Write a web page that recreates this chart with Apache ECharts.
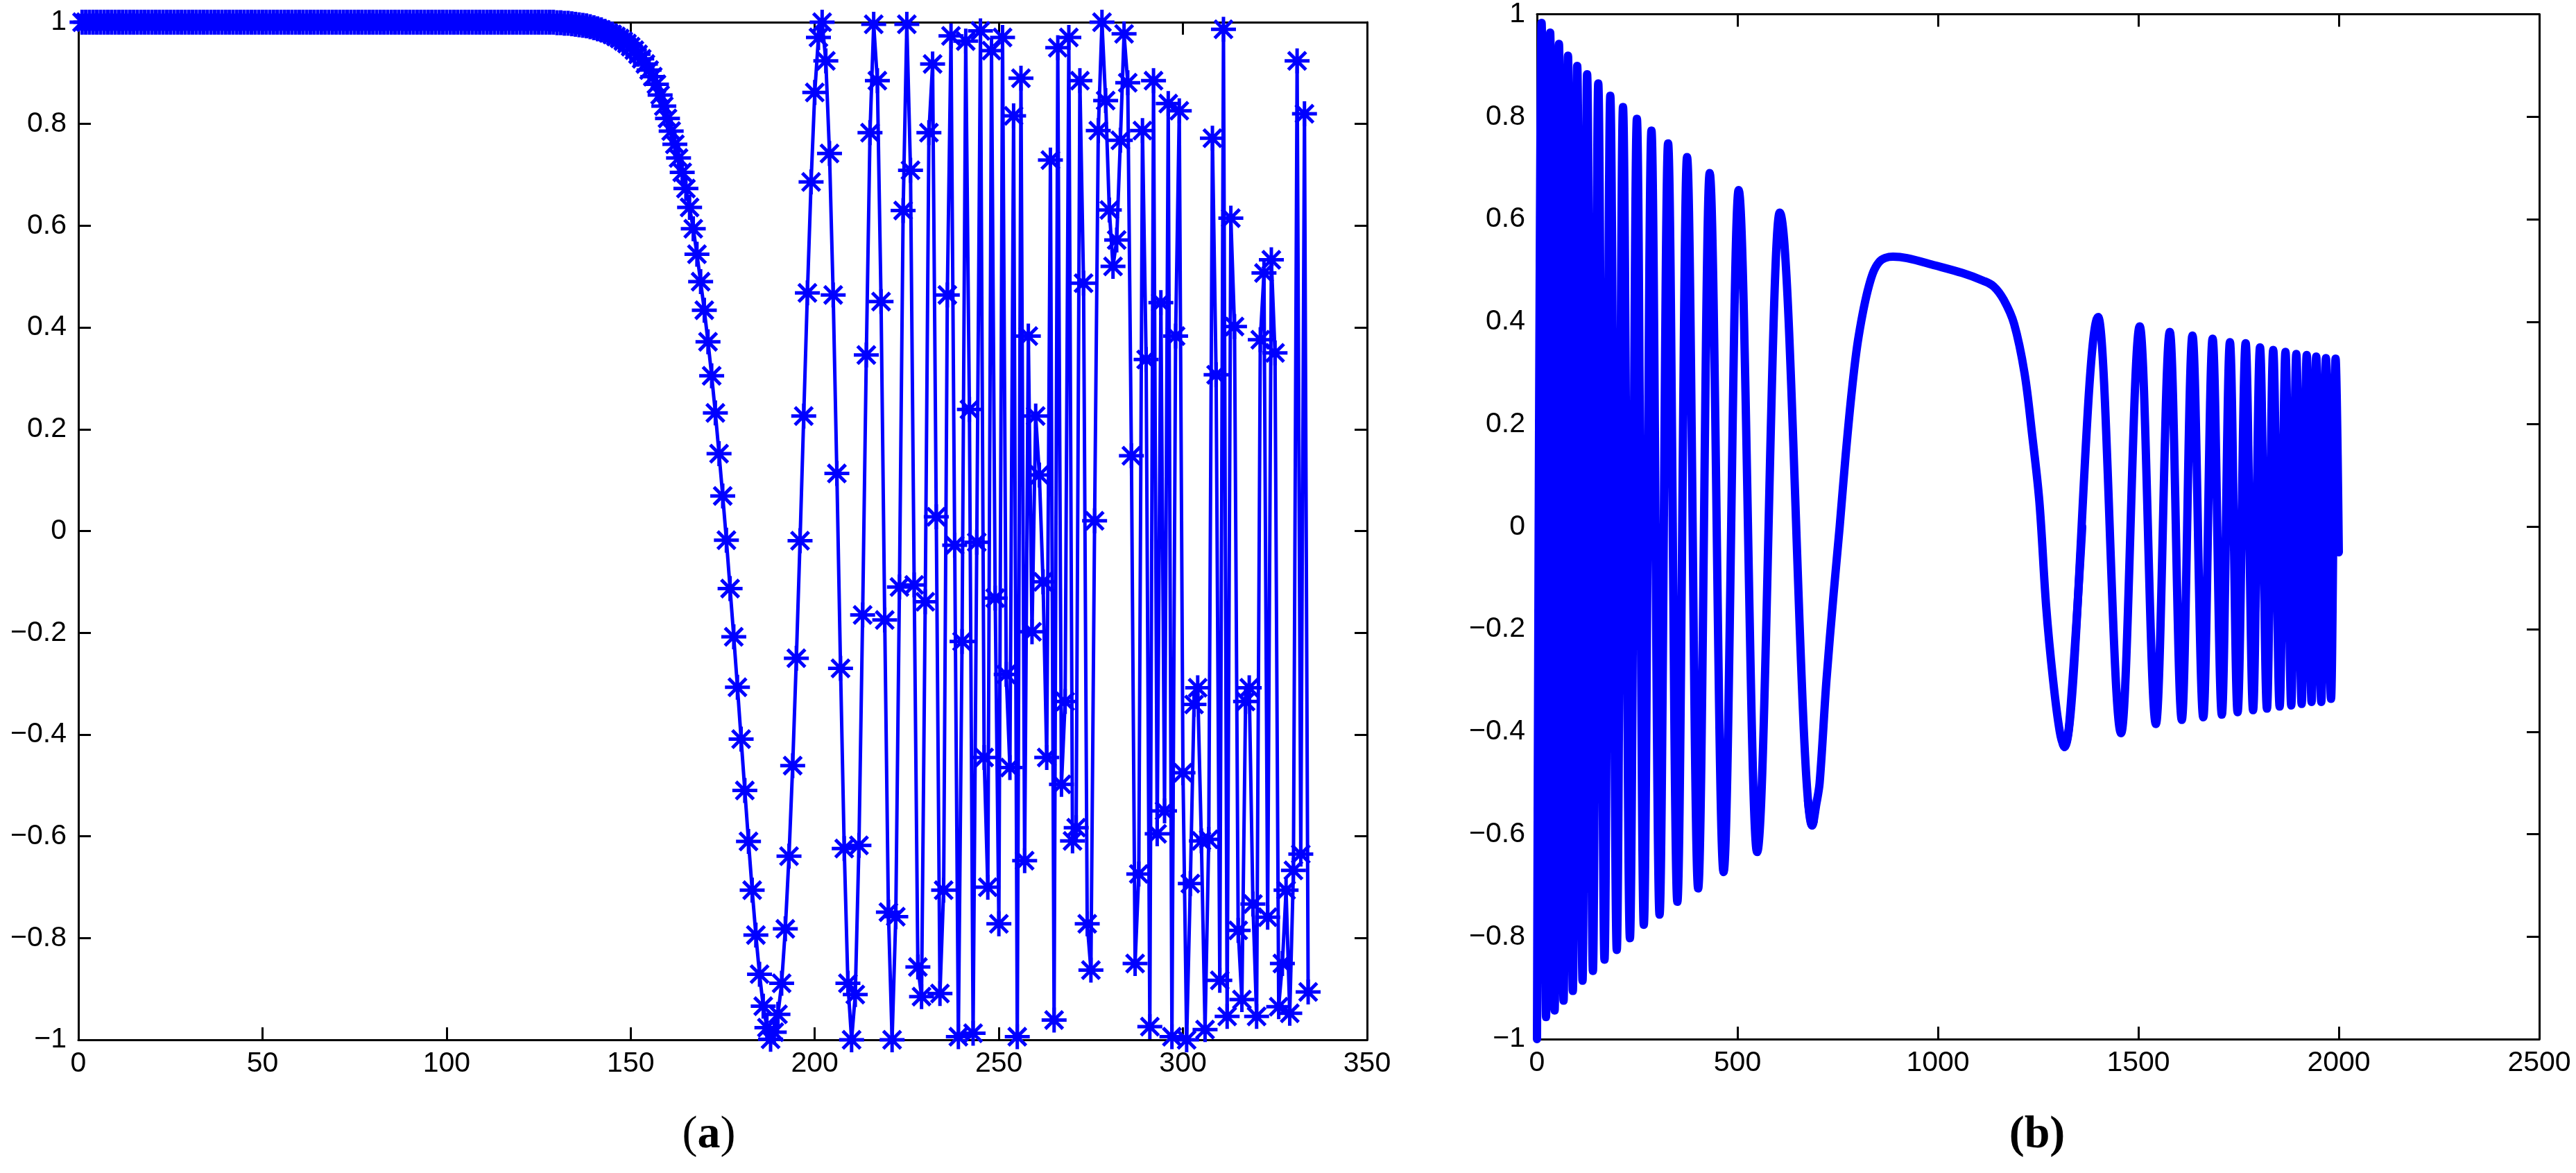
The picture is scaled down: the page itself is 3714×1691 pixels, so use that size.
<!DOCTYPE html>
<html>
<head>
<meta charset="utf-8">
<script src="https://cdn.jsdelivr.net/npm/echarts@6/dist/echarts.min.js"></script>
<style>
html,body{margin:0;padding:0;background:#ffffff;}
#chart{width:3714px;height:1691px;}
</style>
</head>
<body>
<div id="chart"></div>
<script>
// ---------- Panel (a): one value per integer x, starting at x = 1 ----------
const leftFirstX = 1;
const leftY = [
  1,1,1,1,1,1,1,1,1,1,            // 1-10
  1,1,1,1,1,1,1,1,1,1,            // 11-20
  1,1,1,1,1,1,1,1,1,1,            // 21-30
  1,1,1,1,1,1,1,1,1,1,            // 31-40
  1,1,1,1,1,1,1,1,1,1,            // 41-50
  1,1,1,1,1,1,1,1,1,1,            // 51-60
  1,1,1,1,1,1,1,1,1,1,            // 61-70
  1,1,1,1,1,1,1,1,1,1,            // 71-80
  1,1,1,1,1,1,1,1,1,1,            // 81-90
  1,1,1,1,1,1,1,1,1,1,            // 91-100
  1,1,1,1,1,1,1,1,1,1,            // 101-110
  1,1,1,1,1,1,1,1,1,1,            // 111-120
  1,1,1,1,1,1,1,1,1,0.999,        // 121-130
  0.999,0.998,0.998,0.997,0.996,0.995,0.994,0.993,0.991,0.989, // 131-140
  0.987,0.985,0.982,0.979,0.976,0.972,0.968,0.963,0.958,0.952, // 141-150
  0.945,0.937,0.928,0.918,0.906,0.893,0.878,0.857,0.835,0.811, // 151-160
  0.786,0.76,0.733,0.705,0.673,0.636,0.594,0.544,0.49,0.434,   // 161-170
  0.372,0.305,0.232,0.152,0.069,-0.018,-0.113,-0.208,-0.307,-0.409, // 171-180
  -0.51,-0.61,-0.706,-0.794,-0.871,-0.934,-0.976,-0.999,-0.985,-0.95, // 181-190
  -0.889,-0.782,-0.639,-0.461,-0.25,-0.019,0.226,0.468,0.686,0.862,  // 191-200
  0.97,1.0,0.924,0.742,0.464,0.113,-0.27,-0.624,-0.889,-1.0,         // 201-210
  -0.911,-0.618,-0.165,0.346,0.783,0.996,0.885,0.451,-0.175,-0.749,  // 211-220
  -1.0,-0.758,-0.11,0.63,0.996,0.709,-0.106,-0.857,-0.915,-0.139,    // 221-230
  0.783,0.918,0.028,-0.909,-0.706,0.464,0.973,-0.028,-0.994,-0.217,  // 231-240
  0.963,0.239,-0.987,-0.022,0.983,-0.445,-0.7,0.944,-0.132,-0.772,   // 241-250
  0.97,-0.282,-0.465,0.816,-0.994,0.89,-0.648,0.383,-0.198,0.226,    // 251-260
  0.11,-0.1,-0.445,0.729,-0.961,0.95,-0.498,-0.335,0.97,-0.609,      // 261-270
  -0.583,0.885,0.487,-0.772,-0.863,0.02,0.787,1.0,0.846,0.631,       // 271-280
  0.52,0.572,0.768,0.977,0.881,0.148,-0.85,-0.674,0.787,0.337,       // 281-290
  -0.974,0.885,-0.595,0.449,-0.55,0.84,-0.994,0.383,0.826,-0.475,    // 291-300
  -1.0,-0.693,-0.341,-0.308,-0.609,-0.98,-0.606,0.772,0.307,-0.883,  // 301-310
  0.986,-0.954,0.615,0.402,-0.785,-0.921,-0.335,-0.308,-0.733,-0.954,// 311-320
  0.376,0.507,-0.759,0.533,0.35,-0.935,-0.85,-0.706,-0.948,-0.667,   // 321-330
  0.924,-0.635,0.82,-0.906                                            // 331-334
];

// ---------- Panel (b): turning points / shape points of the curve ----------
// fast oscillation, start up to just past the bottom of the trough near 686
const rightAX = [0,11.5,22.5,32.9,44,54.8,66.3,77.3,89.4,100.3,113.6,125,139.5,152.8,168.4,182.8,199,214.5,231.8,249.2,266.4,285.5,305.7,327,350.1,374.3,402,430.8,465.4,503,549,605.5,686.3,690];
const rightAY = [-1.0,0.983,-0.957,0.964,-0.944,0.942,-0.925,0.919,-0.906,0.899,-0.886,0.883,-0.867,0.865,-0.845,0.841,-0.826,0.819,-0.803,0.796,-0.777,0.773,-0.757,0.748,-0.732,0.721,-0.706,0.69,-0.674,0.657,-0.635,0.613,-0.583,-0.575];
// broad hump, from just before the trough near 686 to the zero crossing after the trough near 1316
const rightHumpX = [676,686.3,697,705,722,740,755,770,786,802,828,853,888,923,992,1061,1113,1139,1164,1190,1216,1235,1253,1270,1287,1304,1316,1328,1360];
const rightHumpY = [-0.535,-0.583,-0.54,-0.5,-0.3,-0.13,0.0,0.14,0.27,0.37,0.47,0.516,0.527,0.524,0.51,0.495,0.48,0.469,0.443,0.396,0.3,0.18,0.05,-0.155,-0.297,-0.4,-0.43,-0.382,0.0];
// oscillation again (from just before the bottom of the trough near 1316), faster towards the end
const rightBX = [1312,1316,1399.7,1457,1503.5,1543.8,1578.5,1608.4,1635,1662,1685.3,1708.3,1728.5,1747.6,1767.7,1786.2,1803.5,1820.8,1836.4,1852.5,1867,1881.4,1894,1907.4,1920,1932.1,1943.7,1956.3,1967.9,1980.6,1992,2000];
const rightBY = [-0.425,-0.43,0.409,-0.403,0.391,-0.385,0.38,-0.377,0.373,-0.372,0.367,-0.367,0.36,-0.362,0.358,-0.358,0.35,-0.355,0.345,-0.351,0.341,-0.349,0.337,-0.346,0.335,-0.342,0.332,-0.342,0.329,-0.336,0.328,-0.05];

// ---------- Axes ----------
const leftXTicks = {min:0, max:350, step:50};
const rightXTicks = {min:0, max:2500, step:500};
const yTicks = {min:-1, max:1, step:0.2};
const panelLabels = ['a','b'];

const BLUE = '#0000ff';
const pairs = (xs, ys) => xs.map((x, i) => [x, ys[i]]);
const leftData = leftY.map((y, i) => [leftFirstX + i, y]);

function yFmt(v){
  const r = Math.round(v * 10) / 10;
  if (r < 0) return '\u2212' + String(-r);
  return String(r);
}
function xFmt(v){ return String(Math.round(v)); }
const labelFont = {fontFamily:'Liberation Sans, Arial, sans-serif', fontSize:41, color:'#000'};
const lineSt = {color:'#000', width:3};
function xAx(grid, t, pos){
  return {
    gridIndex:grid, type:'value', min:t.min, max:t.max, interval:t.step, position:pos,
    axisLine:{show:true, onZero:false, lineStyle:lineSt},
    axisTick:{show:true, inside:true, length:18, lineStyle:lineSt},
    axisLabel: pos === 'bottom' ? Object.assign({show:true, margin:14, formatter:xFmt}, labelFont) : {show:false},
    splitLine:{show:false}
  };
}
function yAx(grid, pos){
  return {
    gridIndex:grid, type:'value', min:yTicks.min, max:yTicks.max, interval:yTicks.step, position:pos,
    axisLine:{show:true, onZero:false, lineStyle:lineSt},
    axisTick:{show:true, inside:true, length:18, lineStyle:lineSt},
    axisLabel: pos === 'left' ? Object.assign({show:true, margin:17, formatter:yFmt}, labelFont) : {show:false},
    splitLine:{show:false}
  };
}

const asterisk = 'path://M0,-10L0,10M-10,0L10,0M-7.07,-7.07L7.07,7.07M-7.07,7.07L7.07,-7.07';

const rightLine = {color:BLUE, width:12, cap:'round', join:'round'};

const chart = echarts.init(document.getElementById('chart'), null, {renderer:'canvas'});
chart.setOption({
  animation:false,
  backgroundColor:'#ffffff',
  grid:[
    {left:113, top:32, width:1858, height:1467},
    {left:2216, top:15, width:1445, height:1483}
  ],
  xAxis:[
    xAx(0, leftXTicks, 'bottom'), xAx(0, leftXTicks, 'top'),
    xAx(1, rightXTicks, 'bottom'), xAx(1, rightXTicks, 'top')
  ],
  yAxis:[
    yAx(0, 'left'), yAx(0, 'right'),
    yAx(1, 'left'), yAx(1, 'right')
  ],
  series:[
    {
      type:'line', xAxisIndex:0, yAxisIndex:0, data:leftData, clip:false,
      symbol:asterisk, symbolSize:36, showAllSymbol:true,
      lineStyle:{color:BLUE, width:5},
      itemStyle:{color:BLUE, borderColor:BLUE, borderWidth:5},
      emphasis:{disabled:true}, silent:true
    },
    {
      type:'line', xAxisIndex:2, yAxisIndex:2, data:pairs(rightAX, rightAY), clip:false,
      smooth:0.36, smoothMonotone:'x', showSymbol:false, lineStyle:rightLine,
      emphasis:{disabled:true}, silent:true
    },
    {
      type:'line', xAxisIndex:2, yAxisIndex:2, data:pairs(rightHumpX, rightHumpY), clip:false,
      smooth:0.35, showSymbol:false, lineStyle:rightLine,
      emphasis:{disabled:true}, silent:true
    },
    {
      type:'line', xAxisIndex:2, yAxisIndex:2, data:pairs(rightBX, rightBY), clip:false,
      smooth:0.36, smoothMonotone:'x', showSymbol:false, lineStyle:rightLine,
      emphasis:{disabled:true}, silent:true
    }
  ],
  graphic:[
    {
      type:'text', x:1022, y:1637,
      style:{
        text:'{n|(}{b|' + panelLabels[0] + '}{n|)}', align:'center', verticalAlign:'middle',
        rich:{
          n:{fontFamily:'Liberation Serif, serif', fontSize:66, fill:'#000'},
          b:{fontFamily:'Liberation Serif, serif', fontSize:66, fontWeight:'bold', fill:'#000'}
        }
      }
    },
    {
      type:'text', x:2937, y:1637,
      style:{
        text:'{n|(}{b|' + panelLabels[1] + '}{n|)}', align:'center', verticalAlign:'middle',
        rich:{
          n:{fontFamily:'Liberation Serif, serif', fontSize:66, fontWeight:'bold', fill:'#000'},
          b:{fontFamily:'Liberation Serif, serif', fontSize:66, fontWeight:'bold', fill:'#000'}
        }
      }
    }
  ]
});
</script>
</body>
</html>
